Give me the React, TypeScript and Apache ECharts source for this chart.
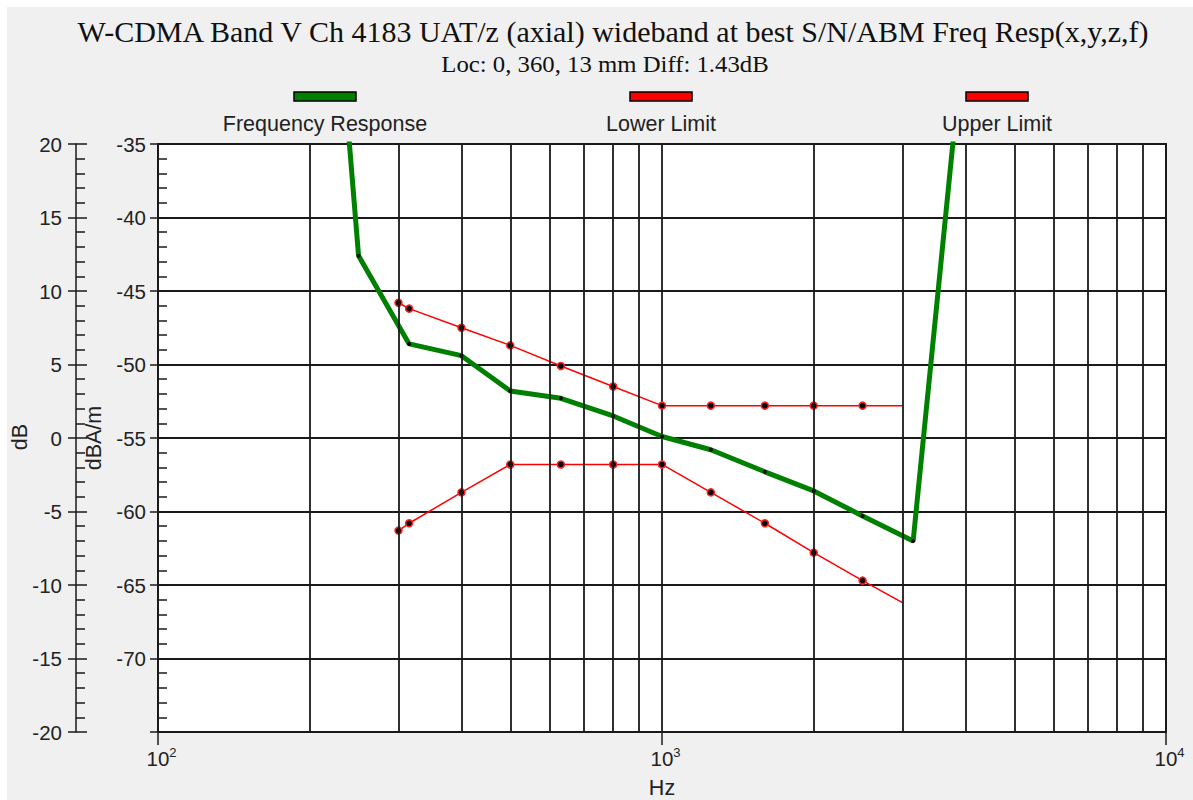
import { useEffect, useRef } from "react";
import * as echarts from "echarts";

const TITLE = "W-CDMA Band V Ch 4183 UAT/z (axial) wideband at best S/N/ABM Freq Resp(x,y,z,f)";
const SUBTITLE = "Loc: 0, 360, 13 mm Diff: 1.43dB";

const SERIES_NAMES = ["Frequency Response", "Lower Limit", "Upper Limit"];
const SERIES_COLORS = ["#008000", "#ff0000", "#ff0000"];

const FR_FREQ = [200, 250, 315, 400, 500, 630, 800, 1000, 1250, 1600, 2000, 2500, 3150, 4000];
const FR_DB = [53, 12.4, 6.4, 5.6, 3.2, 2.7, 1.5, 0.1, -0.8, -2.3, -3.6, -5.3, -7.0, 28.6];

const LIMIT_FREQ = [300, 315, 400, 500, 630, 800, 1000, 1250, 1600, 2000, 2500, 3000];
const LOWER_DB = [-6.3, -5.8, -3.7, -1.8, -1.8, -1.8, -1.8, -3.7, -5.8, -7.8, -9.7, -11.2];
const UPPER_DB = [9.2, 8.8, 7.5, 6.3, 4.9, 3.5, 2.2, 2.2, 2.2, 2.2, 2.2, 2.2];

const GRID_FREQ = [200, 300, 400, 500, 600, 700, 800, 900, 2000, 3000, 4000, 5000, 6000, 7000, 8000, 9000];

const DB_RANGE = [-20, 20];
const DBAM_RANGE = [-75, -35];
const Y_NAMES = ["dB", "dBA/m"];

const SANS = "'Liberation Sans', Arial, sans-serif";
const SERIF = "'Liberation Serif', 'Times New Roman', serif";
const INK = "#1a1a1a";
const TXT = "#222";

export default function App() {
  const ref = useRef<HTMLDivElement>(null);

  useEffect(() => {
    document.body.style.margin = "0";
    document.body.style.background = "#ffffff";
    if (!ref.current) return;
    const chart = echarts.init(ref.current, null, { renderer: "svg" });

    const limitData = (vals: number[]) =>
      LIMIT_FREQ.map((f, i) =>
        i === LIMIT_FREQ.length - 1 ? { value: [f, vals[i]], symbol: "none" } : [f, vals[i]]
      );

    const gridLine = { color: INK, width: 1.8, type: "solid" as const };
    const labelStyle = { fontFamily: SANS, fontSize: 20.5, color: TXT };

    const legendCenters = [318, 654, 990];

    const option: any = {
      animation: false,
      backgroundColor: "#f0f0f0",
      grid: {
        left: 151,
        right: 27,
        top: 137,
        bottom: 68,
        show: true,
        backgroundColor: "#ffffff",
        borderColor: INK,
        borderWidth: 2,
        containLabel: false,
        outerBoundsMode: "none",
      },
      graphic: [
        {
          type: "text",
          x: 606,
          y: 24,
          style: { text: TITLE, font: `30px ${SERIF}`, fill: "#111", align: "center", verticalAlign: "middle" },
        },
        {
          type: "text",
          x: 598,
          y: 57,
          scaleX: 1.1,
          style: { text: SUBTITLE, font: `22.5px ${SERIF}`, fill: "#111", align: "center", verticalAlign: "middle" },
        },
        {
          type: "text",
          x: 13,
          y: 430,
          rotation: Math.PI / 2,
          style: { text: Y_NAMES[0], font: `21.5px ${SANS}`, fill: TXT, align: "center", verticalAlign: "middle" },
        },
        ...legendCenters.flatMap((cx, i) => [
          {
            type: "rect",
            shape: { x: cx - 31, y: 85, width: 62, height: 9 },
            style: { fill: SERIES_COLORS[i], stroke: "#000", lineWidth: 1.5 },
          },
          {
            type: "text",
            x: cx,
            y: 117,
            style: { text: SERIES_NAMES[i], font: `21.5px ${SANS}`, fill: TXT, align: "center", verticalAlign: "middle" },
          },
        ]),
      ],
      xAxis: {
        type: "log",
        logBase: 10,
        min: 100,
        max: 10000,
        axisLine: { show: true, onZero: false, lineStyle: { color: INK, width: 1.5 } },
        axisTick: { show: true, length: 13, lineStyle: { color: INK, width: 1.5 } },
        axisLabel: {
          margin: 14,
          formatter: (v: number) => `{a|10}{b|${Math.round(Math.log10(v))}}`,
          rich: {
            a: { fontFamily: SANS, fontSize: 20.5, color: TXT, padding: [0, 0, 0, 7], verticalAlign: "bottom" },
            b: { fontFamily: SANS, fontSize: 13, color: TXT, padding: [0, 0, 10, 0], verticalAlign: "bottom" },
          },
        },
        splitLine: { show: true, lineStyle: gridLine },
        name: "Hz",
        nameLocation: "middle",
        nameGap: 45,
        nameTextStyle: { fontFamily: SANS, fontSize: 21.5, color: TXT },
      },
      yAxis: [
        {
          type: "value",
          min: DB_RANGE[0],
          max: DB_RANGE[1],
          interval: 5,
          position: "left",
          offset: 82,
          axisLine: { show: true, lineStyle: { color: INK, width: 1.5 } },
          axisTick: { show: true, length: 8, lineStyle: { color: INK, width: 1.5 } },
          axisLabel: { ...labelStyle, margin: 14 },
          splitLine: { show: false },
        },
        {
          type: "value",
          min: DB_RANGE[0],
          max: DB_RANGE[1],
          interval: 5,
          position: "left",
          offset: 82,
          axisLine: { show: false },
          axisTick: { show: true, inside: true, length: 11, lineStyle: { color: INK, width: 1.5 } },
          minorTick: { show: true, splitNumber: 5, length: 9, lineStyle: { color: INK, width: 1.5 } },
          axisLabel: { show: false },
          splitLine: { show: false },
        },
        {
          type: "value",
          min: DBAM_RANGE[0],
          max: DBAM_RANGE[1],
          interval: 5,
          position: "left",
          offset: 0,
          axisLine: { show: true, lineStyle: { color: INK, width: 1.5 } },
          axisTick: { show: true, length: 8, lineStyle: { color: INK, width: 1.5 } },
          axisLabel: {
            ...labelStyle,
            margin: 12,
            formatter: (v: number) => (v === DBAM_RANGE[0] ? "" : String(v)),
          },
          splitLine: { show: true, lineStyle: gridLine },
          name: Y_NAMES[1],
          nameLocation: "middle",
          nameRotate: 90,
          nameGap: 44,
          nameTextStyle: { fontFamily: SANS, fontSize: 21.5, color: TXT },
        },
        {
          type: "value",
          min: DBAM_RANGE[0],
          max: DBAM_RANGE[1],
          interval: 5,
          position: "left",
          offset: 0,
          axisLine: { show: false },
          axisTick: { show: true, inside: true, length: 10, lineStyle: { color: INK, width: 1.5 } },
          minorTick: { show: true, splitNumber: 5, length: 9, lineStyle: { color: INK, width: 1.5 } },
          axisLabel: { show: false },
          splitLine: { show: false },
        },
      ],
      series: [
        {
          name: "grid",
          type: "line",
          data: [],
          yAxisIndex: 0,
          z: 1,
          silent: true,
          markLine: {
            silent: true,
            symbol: ["none", "none"],
            label: { show: false },
            lineStyle: gridLine,
            emphasis: { disabled: true },
            data: GRID_FREQ.map((f) => ({ xAxis: f })),
          },
        },
        {
          name: SERIES_NAMES[0],
          type: "line",
          yAxisIndex: 0,
          z: 3,
          data: FR_FREQ.map((f, i) => [f, FR_DB[i]]),
          lineStyle: { color: SERIES_COLORS[0], width: 5 },
          symbol: "circle",
          symbolSize: 4,
          itemStyle: { color: "#000" },
          clip: true,
        },
        {
          name: SERIES_NAMES[1],
          type: "line",
          yAxisIndex: 0,
          z: 4,
          data: limitData(LOWER_DB),
          lineStyle: { color: SERIES_COLORS[1], width: 1.5 },
          symbol: "circle",
          symbolSize: 7,
          itemStyle: { color: "#000", borderColor: "#ff2020", borderWidth: 1.5 },
          clip: true,
        },
        {
          name: SERIES_NAMES[2],
          type: "line",
          yAxisIndex: 0,
          z: 4,
          data: limitData(UPPER_DB),
          lineStyle: { color: SERIES_COLORS[2], width: 1.5 },
          symbol: "circle",
          symbolSize: 7,
          itemStyle: { color: "#000", borderColor: "#ff2020", borderWidth: 1.5 },
          clip: true,
        },
      ],
    };

    chart.setOption(option);
    return () => chart.dispose();
  }, []);

  return (
    <div style={{ position: "relative", width: 1193, height: 800, background: "#ffffff" }}>
      <div ref={ref} style={{ position: "absolute", left: 7, top: 7, width: 1186, height: 793 }} />
    </div>
  );
}
